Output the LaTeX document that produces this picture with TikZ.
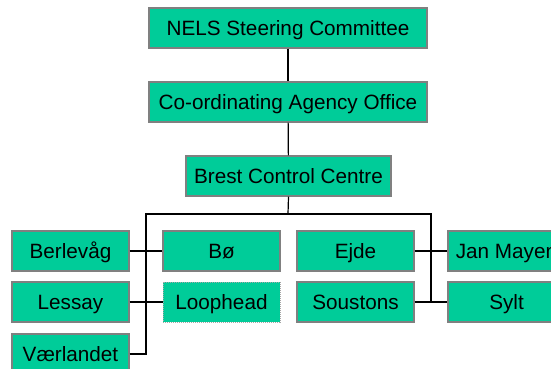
\documentclass[tikz,border=0pt]{standalone}
\usepackage{fontspec}
\setmainfont{Liberation Sans}
\definecolor{boxfill}{HTML}{00CC99}
\definecolor{boxline}{HTML}{808080}
\begin{document}
\begin{tikzpicture}[x=1pt,y=-1pt,
  unit/.style={rectangle, draw=boxline, line width=1.3pt, fill=boxfill,
    inner sep=0pt, minimum width=117pt, minimum height=40pt,
    font=\fontsize{20.7}{24}\selectfont, text height=14.8pt, text depth=0pt},
  wideunit/.style={unit, minimum width=278pt},
  dottedunit/.style={unit, draw=boxline!70, line width=1pt, dash pattern=on 1pt off 1pt},
  link/.style={draw=black, line width=1.2pt},
  bus/.style={draw=black, line width=2pt}]
\useasboundingbox (0,0) rectangle (551,368);

% management chain
\node[wideunit] (nels) at (288,28) {NELS Steering Committee};
\node[wideunit] (coord) at (288,102) {Co-ordinating Agency Office};
\node[unit, minimum width=205pt] (brest) at (288.5,176) {Brest Control Centre};

% stations
\node[unit] (berlevag) at (70.5,251) {Berlevåg};
\node[unit] (lessay) at (70.5,302) {Lessay};
\node[unit] (vaerlandet) at (70.5,354) {Værlandet};
\node[unit] (bo) at (221.5,251) {Bø};
\node[dottedunit] (loophead) at (221.5,302) {Loophead};
\node[unit] (ejde) at (355.5,251) {Ejde};
\node[unit] (soustons) at (355.5,302) {Soustons};
\node[unit] (janmayen) at (506.5,251) {Jan Mayen};
\node[unit] (sylt) at (506.5,302) {Sylt};

% distribution bus
\coordinate (busL) at (146,214);
\coordinate (busM) at (288,214);
\coordinate (busR) at (431,214);

\draw[link] (nels) -- (coord);
\draw[link] (coord) -- (brest);
\draw[link] (brest.south) -- (busM);
\draw[bus] (vaerlandet.east) -- (busL |- vaerlandet.east) -- (busL) -- (busR) -- (busR |- sylt.west);

\draw[link] (berlevag) -- (bo);
\draw[link] (lessay) -- (loophead);
\draw[link] (ejde) -- (janmayen);
\draw[link] (soustons) -- (sylt);
\end{tikzpicture}
\end{document}
